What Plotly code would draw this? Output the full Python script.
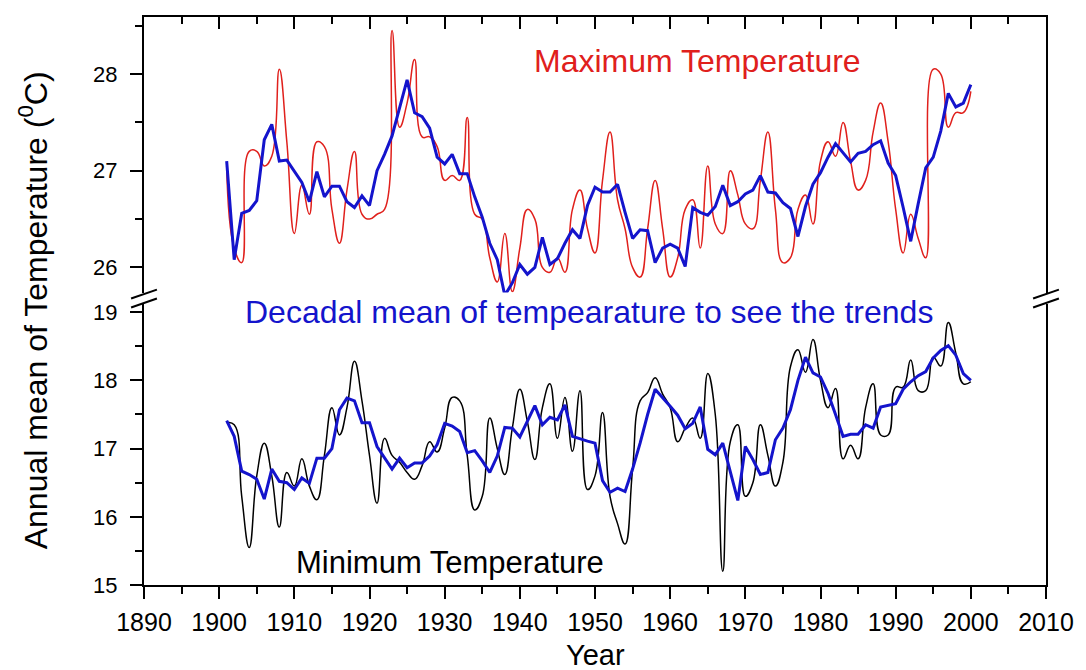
import plotly.graph_objects as go

years = list(range(1901, 2001))

tmax = [27.05, 26.2, 26.05, 27.2, 27.2, 27.05, 27.15, 28.05, 27.3, 26.35,
        26.85, 26.55, 27.3, 27.25, 26.6, 26.25, 26.8, 27.2, 26.55, 26.5,
        26.55, 26.6, 28.45, 27.45, 27.7, 28.15, 27.35, 27.35, 27.25, 26.9,
        26.95, 26.9, 27.55, 26.55, 26.5, 26.1, 25.85, 26.35, 25.75, 26.2,
        26.6, 26.5, 26.0, 25.95, 26.1, 25.95, 26.6, 26.8, 26.4, 26.15,
        26.9, 27.4, 26.7, 26.4, 26.0, 25.9, 26.4, 26.9, 26.4, 25.9,
        26.1, 26.6, 26.7, 26.2, 27.05, 26.45, 26.35, 27.0, 26.75, 26.45,
        26.4, 26.9, 27.4, 26.6, 26.05, 26.1, 26.6, 26.75, 26.45, 27.1,
        27.3, 27.15, 27.5, 27.1, 26.8, 26.9, 27.4, 27.7, 27.3, 26.6,
        26.15, 26.55, 26.3, 26.1, 28.05, 28.0, 27.45, 27.6, 27.6, 27.82]

tmax_decadal = [27.10, 26.08, 26.56, 26.59, 26.69, 27.32, 27.48, 27.10, 27.11, 27.0,
                26.88, 26.68, 26.99, 26.73, 26.84, 26.84, 26.68, 26.62, 26.74, 26.64,
                27.0, 27.17, 27.36, 27.65, 27.94, 27.60, 27.56, 27.44, 27.14, 27.07,
                27.17, 26.97, 26.97, 26.73, 26.52, 26.25, 26.08, 25.71, 25.84, 26.03,
                25.93, 26.0, 26.31, 26.03, 26.09, 26.25, 26.39, 26.30, 26.64, 26.83,
                26.78, 26.78, 26.86, 26.57, 26.30, 26.39, 26.38, 26.05, 26.2, 26.24,
                26.2, 26.01, 26.62, 26.57, 26.54, 26.63, 26.85, 26.64, 26.68, 26.76,
                26.80, 26.95, 26.78, 26.77, 26.67, 26.61, 26.32, 26.63, 26.86, 26.98,
                27.14, 27.28, 27.18, 27.09, 27.18, 27.2, 27.27, 27.31, 27.08, 26.95,
                26.62, 26.27, 26.66, 27.03, 27.14, 27.41, 27.80, 27.66, 27.70, 27.89]

tmin = [17.38, 17.35, 16.3, 15.55, 16.6, 17.08, 16.6, 15.85, 16.65, 16.45,
        16.85, 16.45, 16.25, 16.9, 17.6, 17.2, 17.6, 18.28, 17.7, 16.9,
        16.2, 17.15, 16.9, 16.8, 16.65, 16.55, 16.75, 17.1, 16.95, 17.3,
        17.75, 17.7, 16.9, 16.1, 16.3, 17.45, 17.0, 16.62, 17.3, 17.87,
        17.4, 16.84, 17.6, 17.95, 17.15, 17.75, 16.96, 17.85, 16.4, 16.6,
        17.53, 16.3, 15.9, 15.6, 16.7, 17.7, 17.82, 18.04, 17.8, 17.6,
        17.1, 17.3, 17.45, 17.15, 18.1, 17.5, 15.2, 17.1, 17.35, 16.3,
        16.5, 17.35, 16.9, 16.45, 16.8, 18.2, 18.45, 18.12, 18.6, 18.0,
        17.6, 17.88, 16.85, 17.05, 16.85, 17.6, 17.95, 17.2, 17.2, 17.9,
        17.9, 18.3, 17.85, 17.85, 18.34, 18.21, 18.85, 18.4, 17.95, 17.98]

tmin_decadal = [17.41, 17.18, 16.67, 16.62, 16.55, 16.26, 16.70, 16.52, 16.50, 16.40,
                16.57, 16.49, 16.86, 16.86, 17.0, 17.57, 17.74, 17.70, 17.38, 17.38,
                17.03, 16.86, 16.70, 16.86, 16.72, 16.79, 16.79, 16.89, 17.06, 17.37,
                17.33, 17.25, 16.94, 16.97, 16.82, 16.65, 16.89, 17.31, 17.30, 17.17,
                17.40, 17.63, 17.35, 17.46, 17.42, 17.64, 17.18, 17.14, 17.11, 17.08,
                16.53, 16.36, 16.42, 16.37, 16.70, 17.08, 17.50, 17.87, 17.75, 17.62,
                17.49, 17.29, 17.37, 17.61, 16.99, 16.91, 17.08, 16.67, 16.24, 17.03,
                16.84, 16.62, 16.65, 17.13, 17.30, 17.57, 18.0, 18.34, 18.11, 18.05,
                17.81, 17.50, 17.18, 17.21, 17.21, 17.35, 17.30, 17.61, 17.63, 17.66,
                17.87, 17.98, 18.07, 18.13, 18.33, 18.44, 18.51, 18.37, 18.10, 18.0]

x_ticks = list(range(1890, 2011, 10))

RED = "#e0201c"
BLUE = "#1414cc"
FONT = "Liberation Sans, Arial, sans-serif"

fig = go.Figure()

# top panel: maximum temperature
fig.add_trace(go.Scatter(x=years, y=tmax, mode="lines", xaxis="x2", yaxis="y",
                         line=dict(color=RED, width=1.5, shape="spline", smoothing=1.3)))
fig.add_trace(go.Scatter(x=years, y=tmax_decadal, mode="lines", xaxis="x2", yaxis="y",
                         line=dict(color=BLUE, width=3)))
# bottom panel: minimum temperature
fig.add_trace(go.Scatter(x=years, y=tmin, mode="lines", xaxis="x", yaxis="y2",
                         line=dict(color="black", width=1.5, shape="spline", smoothing=1.3)))
fig.add_trace(go.Scatter(x=years, y=tmin_decadal, mode="lines", xaxis="x", yaxis="y2",
                         line=dict(color=BLUE, width=3)))

# plot area in pixels: x 144..1053, y 12..585
L, R, T, B = 144, 1053, 12, 585
W, H = R - L, B - T

def px(x):
    return (x - L) / W

def py(y):
    return (B - y) / H

top_bottom_px = 290
bot_top_px = 302

axis_common = dict(showgrid=False, zeroline=False, showline=True, linecolor="black",
                   linewidth=2)

fig.update_layout(
    width=1086, height=670,
    margin=dict(l=L, r=1086 - R, t=T, b=670 - B),
    paper_bgcolor="white", plot_bgcolor="white",
    showlegend=False, hovermode=False,
    font=dict(family=FONT, color="black"),
    xaxis=dict(**axis_common, anchor="y2", range=[1890, 2010], tickvals=x_ticks,
               ticks="outside", ticklen=12, tickwidth=2, tickcolor="black",
               minor=dict(dtick=5, tick0=1890, ticks="outside", ticklen=7, tickwidth=2,
                          tickcolor="black"),
               tickfont=dict(size=25, family=FONT), ticklabelstandoff=2),
    xaxis2=dict(**axis_common, anchor="y", matches="x", side="top", range=[1890, 2010],
                tickvals=x_ticks, ticks="inside", ticklen=12, tickwidth=2,
                tickcolor="black", showticklabels=False,
                minor=dict(dtick=5, tick0=1890, ticks="inside", ticklen=7, tickwidth=2,
                           tickcolor="black")),
    yaxis=dict(**axis_common, anchor="x2", mirror=True,
               domain=[py(top_bottom_px), 1],
               range=[25.74, 28.59], tickvals=[26, 27, 28],
               ticks="outside", ticklen=12, tickwidth=2, tickcolor="black",
               minor=dict(dtick=0.5, tick0=0, ticks="outside", ticklen=7, tickwidth=2,
                          tickcolor="black"),
               tickfont=dict(size=22, family=FONT), ticklabelstandoff=8),
    yaxis2=dict(**axis_common, anchor="x", mirror=True,
                domain=[0, py(bot_top_px)],
                range=[15, 15 + (B - bot_top_px) / 68.8], tickvals=[15, 16, 17, 18, 19],
                ticks="outside", ticklen=12, tickwidth=2, tickcolor="black",
                minor=dict(dtick=0.5, tick0=0, ticks="outside", ticklen=7, tickwidth=2,
                           tickcolor="black"),
                tickfont=dict(size=22, family=FONT), ticklabelstandoff=8),
)

# axis break marks
for xc in (L, R):
    for dy in (0, 9):
        fig.add_shape(type="line", xref="paper", yref="paper",
                      x0=px(xc - 13), y0=py(296 + dy), x1=px(xc + 13), y1=py(287 + dy),
                      line=dict(color="black", width=2))

annotations = [
    dict(text="Maximum Temperature", x=px(702), y=py(56), font=dict(size=32, color=RED)),
    dict(text="Decadal mean of tempearature to see the trends", x=px(592), y=py(310),
         font=dict(size=32, color=BLUE)),
    dict(text="Minimum Temperature", x=px(452), y=py(562), font=dict(size=31, color="black")),
    dict(text="Year", x=px(599), y=py(656), font=dict(size=29, color="black")),
    dict(text="Annual mean of Temperature (<sup>0</sup>C)", x=px(33), y=py(308),
         textangle=-90, font=dict(size=32, color="black")),
]
for a in annotations:
    a["font"]["family"] = FONT
    fig.add_annotation(xref="paper", yref="paper", xanchor="center", yanchor="middle",
                       showarrow=False, **a)

fig.write_html("out.html", config={"displayModeBar": False},
               post_script="document.body.style.margin='0';document.body.style.padding='0';")
